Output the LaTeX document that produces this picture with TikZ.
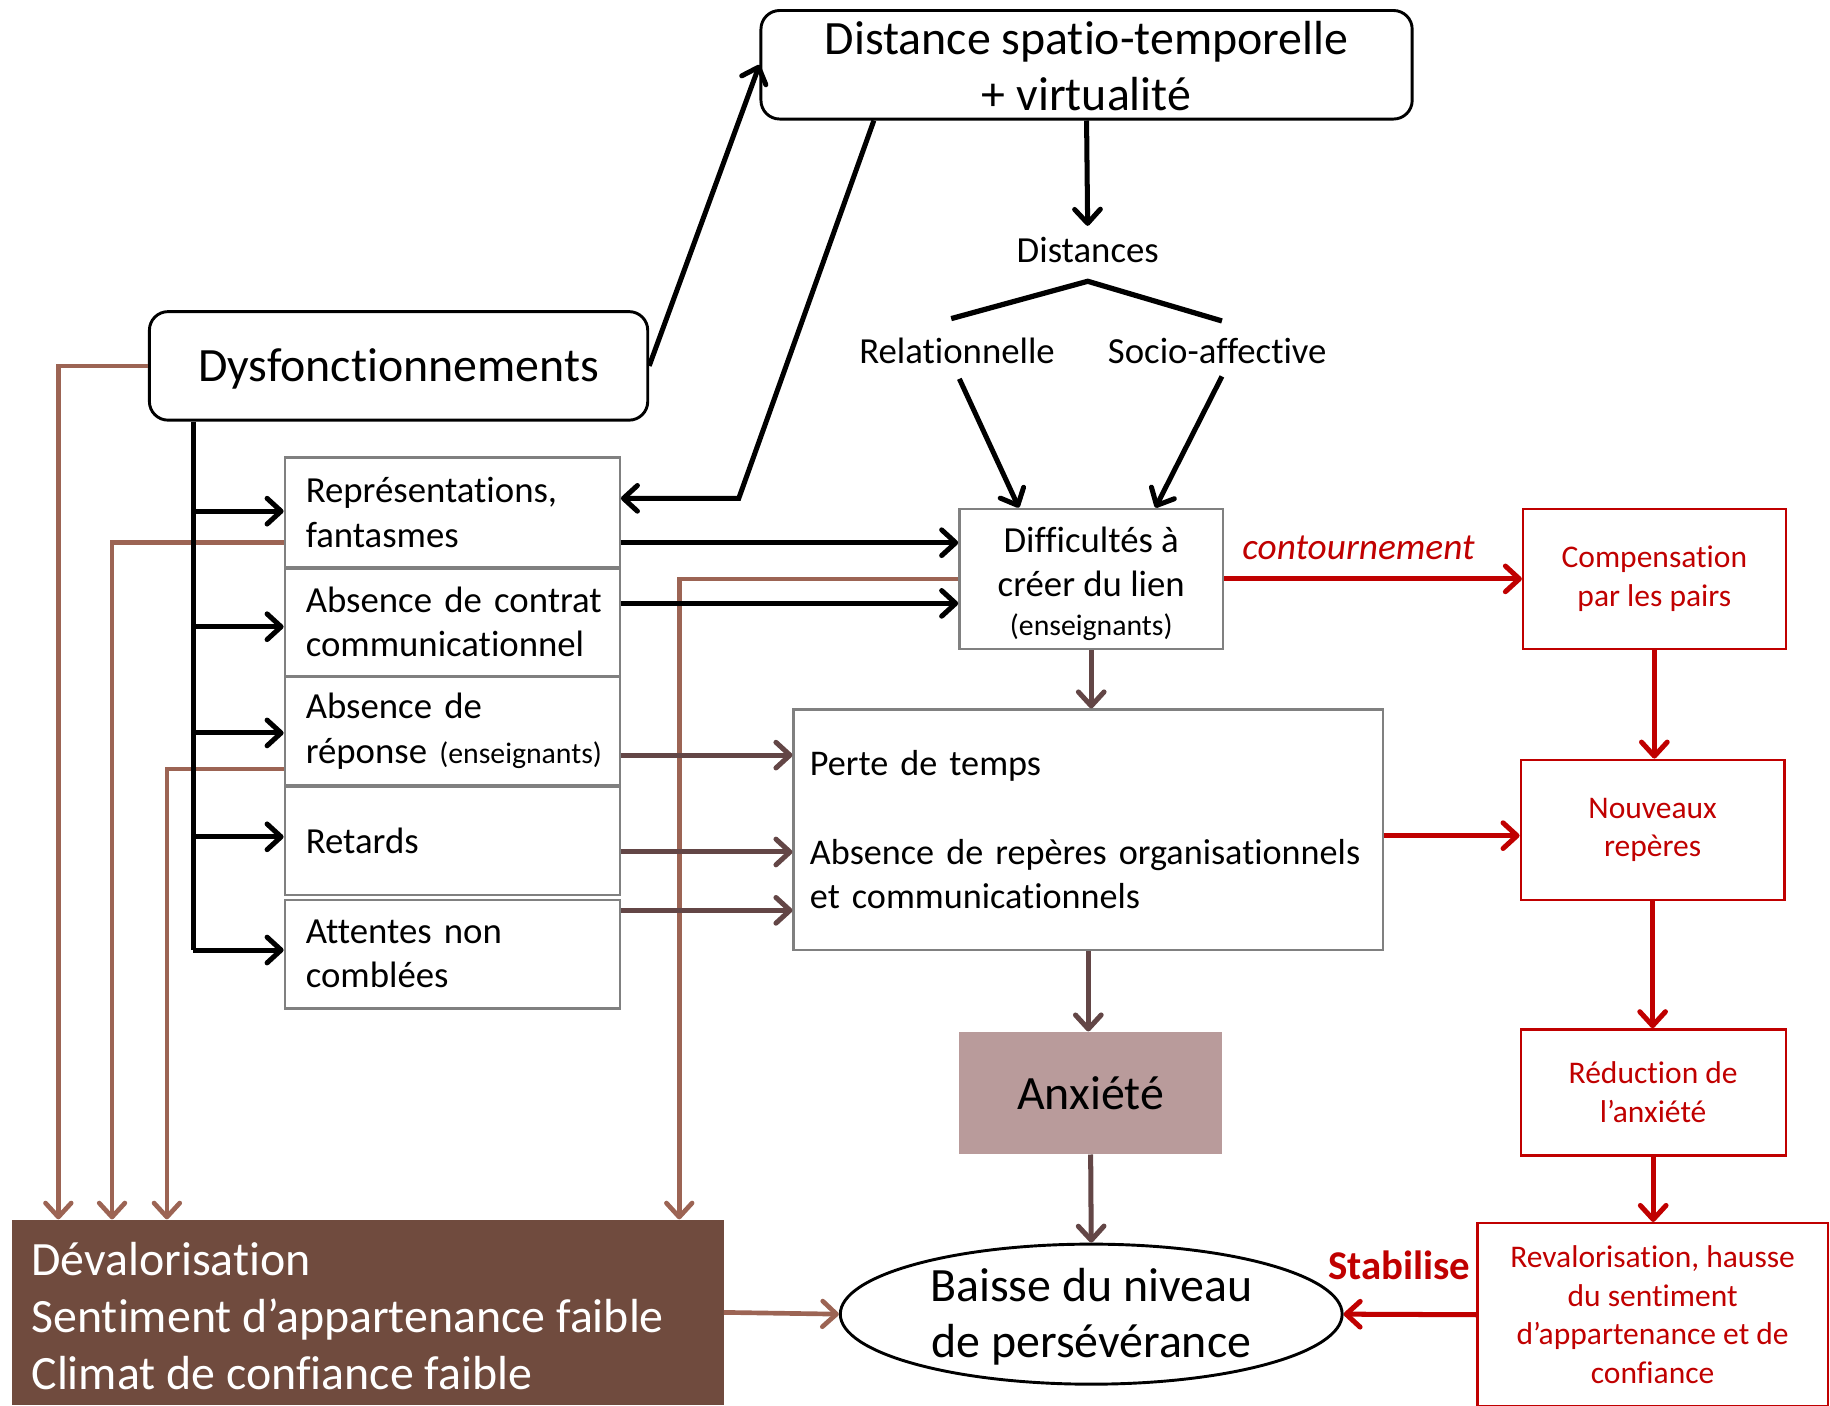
\documentclass[tikz,border=0pt]{standalone}
\usepackage{fontspec}
\setmainfont{Carlito}[Ligatures={NoCommon,NoRequired}]
\usetikzlibrary{arrows.meta,shapes.geometric,calc}
\definecolor{bgray}{RGB}{128,128,128}
\definecolor{lbrown}{RGB}{156,100,84}
\definecolor{dbrown}{RGB}{99,70,70}
\definecolor{dred}{RGB}{192,0,0}
\definecolor{anxfill}{RGB}{185,155,155}
\definecolor{botfill}{RGB}{112,75,62}
\newcommand\fszA{\fontsize{41}{48}\selectfont}
\newcommand\fszB{\fontsize{31.5}{38}\selectfont}
\newcommand\fszC{\fontsize{27}{33}\selectfont}
\newcommand\fszS{\fontsize{25.5}{30}\selectfont}
\begin{document}
\begin{tikzpicture}[x=1pt,y=-1pt,
  tipx/.style={-{Straight Barb[length=12pt,width=22pt,round]}},
  blk/.style={line width=4.3pt,black,tipx},
  lbr/.style={line width=4pt,lbrown,tipx},
  dbr/.style={line width=4.3pt,dbrown,tipx},
  rd/.style={line width=4.3pt,dred,tipx},
  rbox/.style={draw,line width=2.5pt,rounded corners=16pt,inner sep=0pt},
  gbox/.style={draw=bgray,line width=2pt,inner sep=0pt},
  lbox/.style={gbox,minimum width=287pt,text width=251pt,inner xsep=18pt,align=left,font=\fszB},
  cbox/.style={draw=dred,text=dred,line width=2pt,align=center,font=\fszC,inner sep=0pt}]
\useasboundingbox (0,0) rectangle (1568,1204);

% nodes
\node[rbox,minimum width=558pt,minimum height=93pt] (T) at (931,55.5) {};
\node[font=\fszA,align=center] (Tt) at ($(T.center)+(0,1)$) {Distance spatio-temporelle\\+ virtualité};
\node[font=\fszB] (Dis) at (932,214) {Distances};
\node[font=\fszB] (Rel) at (820,301) {Relationnelle};
\node[font=\fszB] (Soc) at (1043,301) {Socio-affective};
\node[gbox,minimum width=226pt,minimum height=120pt] (D) at (935,496) {};
\node[align=center,font=\fszB] (Dt) at ($(D.center)+(0,4)$) {Difficultés à\\créer du lien\\[-5pt]{\fszS (enseignants)}};
\node[rbox,minimum width=427pt,minimum height=93pt] (Dy) at (341.5,313.5) {};
\node[font=\fszA] (Dyt) at ($(Dy.center)+(0,3)$) {Dysfonctionnements};

\node[lbox,minimum height=94pt] (R1) at (387.5,439) {Représentations,\\fantasmes};
\node[lbox,minimum height=92pt] (R2) at (387.5,533) {\mbox{Absence de contrat}\\communicationnel};
\node[lbox,minimum height=93pt] (R3) at (387.5,626.5) {Absence de\\\mbox{réponse {\fszS (enseignants)}}};
\node[lbox,minimum height=93pt] (R4) at (387.5,720.5) {Retards};
\node[lbox,minimum height=93pt] (R5) at (387.5,817.5) {Attentes non\\comblées};

\node[gbox,minimum width=505pt,minimum height=206pt,text width=477pt,inner xsep=14pt,align=left,font=\fontsize{31}{38}\selectfont] (P) at (932.5,711) {Perte de temps\\[38pt]\mbox{Absence de repères organisationnels}\\et communicationnels};

\node[fill=anxfill,minimum width=225pt,minimum height=105pt,font=\fszA] (A) at (934.5,936.5) {Anxiété};

\node[ellipse,draw,line width=2.5pt,minimum width=430pt,minimum height=120pt,inner sep=0pt] (E) at (935,1126) {};
\node[font=\fszA,align=center] (Et) at ($(E.center)+(0,2)$) {Baisse du niveau\\de persévérance};

\node[fill=botfill,minimum width=610pt,minimum height=159pt] (B) at (315,1124.5) {};
\node[text=white,anchor=west,align=left,font=\fontsize{41}{49}\selectfont,inner sep=0pt] (Bt) at ($(B.west)+(17,3)$) {Dévalorisation\\Sentiment d’appartenance faible\\Climat de confiance faible};

\node[cbox,minimum width=225pt,minimum height=120pt] (C1) at (1417.5,496) {Compensation\\par les pairs};
\node[cbox,minimum width=226pt,minimum height=120pt] (C2) at (1416,711) {Nouveaux\\repères};
\node[cbox,minimum width=227pt,minimum height=108pt] (C3) at (1416.5,936) {Réduction de\\l’anxiété};
\node[cbox,minimum width=300pt,minimum height=157pt] (C4) at (1416,1126.5) {Revalorisation, hausse\\du sentiment\\d’appartenance et de\\confiance};

\node[font=\fontsize{32}{38}\selectfont\itshape,text=dred] (lab1) at (1164,469) {contournement};
\node[font=\fontsize{35}{42}\selectfont\bfseries,text=dred] (lab2) at (1199,1084) {Stabilise};

% brown feedback lines (drawn first)
\draw[lbr] (Dy.west) -- (Dy.west -| 50,0) -- (B.north -| 50,0);
\draw[lbr] (R1.west |- 0,465) -- (96,465) -- (B.north -| 96,0);
\draw[lbr] (R3.west |- 0,659) -- (143,659) -- (B.north -| 143,0);
\draw[lbr] (D.west) -- (D.west -| 582,0) -- (B.north -| 582,0);
\draw[lbr] (B.east) -- (E.west);

% black connectors
\draw[blk,shorten >=6pt] (T.south) -- (Dis.north);
\coordinate (apex) at (932,241);
\coordinate (brl) at (815,273);
\coordinate (brr) at (1047,275);
\draw[line width=4.5pt] (brl) -- (apex) -- (brr);
\coordinate (rs) at ($(Rel.south)+(2,9)$);
\coordinate (ss) at ($(Soc.south)+(4,7)$);
\draw[blk] (rs) -- ($(D.north)+(-62,0)$);
\draw[blk] (ss) -- ($(D.north)+(55,0)$);
\draw[blk] (Dy.east) -- (T.west);
\coordinate (t1) at ($(T.south west)+(98,0)$);
\coordinate (k1) at (633,427);
\draw[blk] (t1) -- (k1) -- (k1 -| R1.east);
\coordinate (tr) at ($(Dy.south west)+(39,0)$);
\draw[line width=4.3pt] (tr) -- (tr |- 0,814);
\draw[blk] (tr |- 0,438) -- (R1.west |- 0,438);
\draw[blk] (tr |- 0,537) -- (R2.west |- 0,537);
\draw[blk] (tr |- 0,628) -- (R3.west |- 0,628);
\draw[blk] (tr |- 0,717) -- (R4.west |- 0,717);
\draw[blk] (tr |- 0,814) -- (R5.west |- 0,814);
\draw[blk] (R1.east |- 0,465) -- (D.west |- 0,465);
\draw[blk] (R2.east |- 0,517) -- (D.west |- 0,517);

% dark brown
\draw[dbr] (R3.east |- 0,647) -- (P.west |- 0,647);
\draw[dbr] (R4.east |- 0,730) -- (P.west |- 0,730);
\draw[dbr] (R5.east |- 0,780) -- (P.west |- 0,780);
\draw[dbr] (D.south) -- (D.south |- P.north);
\draw[dbr] (P.south) -- (P.south |- A.north);
\draw[dbr] (A.south) -- (E.north);

% red
\draw[rd] (D.east) -- (C1.west);
\draw[rd] (C1.south) -- (C1.south |- C2.north);
\draw[rd] (C2.south) -- (C2.south |- C3.north);
\draw[rd] (C3.south) -- (C3.south |- C4.north);
\draw[rd] (P.east |- 0,716) -- (C2.west |- 0,716);
\draw[rd] (C4.west) -- (E.east);
\end{tikzpicture}
\end{document}
